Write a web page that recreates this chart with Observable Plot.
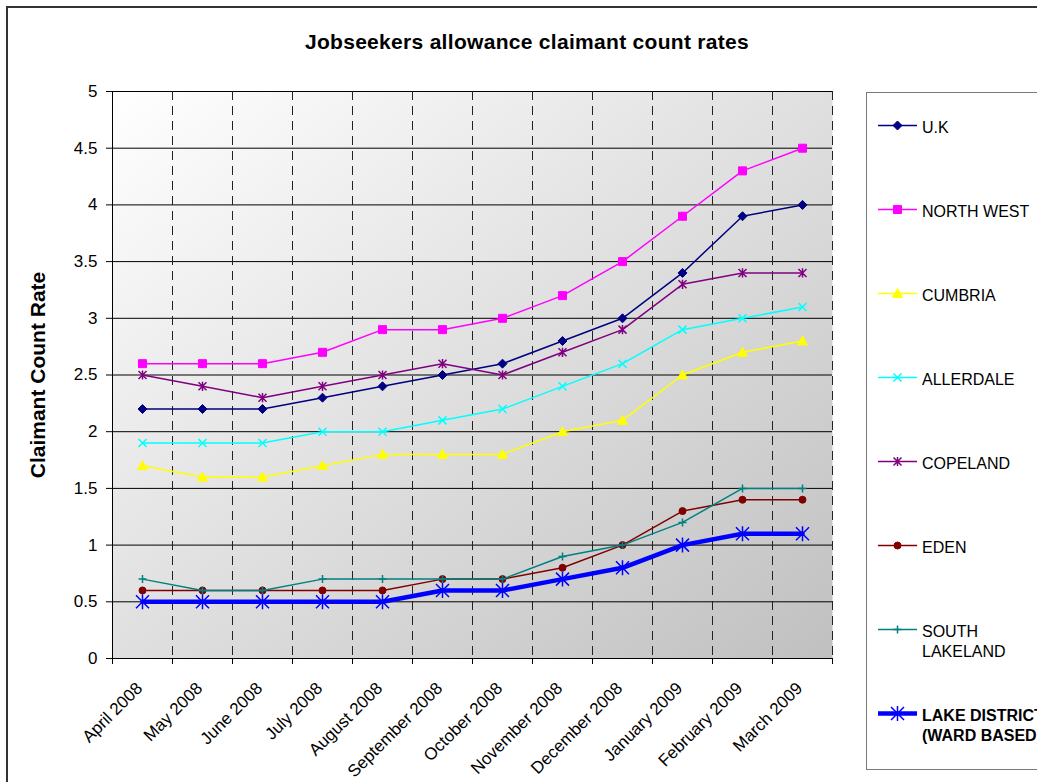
<!DOCTYPE html>
<html>
<head>
<meta charset="utf-8">
<script src="https://cdn.jsdelivr.net/npm/d3@7"></script>
<script src="https://cdn.jsdelivr.net/npm/@observablehq/plot@0.6"></script>
<style>
  html, body { margin: 0; padding: 0; background: #fff; overflow: hidden; }
  #chart { position: relative; width: 1037px; height: 782px; font-family: "Liberation Sans", Arial, sans-serif; }
  #border { position: absolute; left: 6px; top: 6px; width: 1100px; height: 900px; border: 2px solid #333; box-sizing: border-box; }
  #main { position: absolute; left: 0; top: 0; }
  #title { position: absolute; left: 227px; width: 600px; top: 30px; line-height: 23px; text-align: center;
           font-weight: bold; font-size: 21px; letter-spacing: 0.3px; color: #000; }
  #legend { position: absolute; left: 866px; top: 92px; width: 220px; height: 678px;
            border: 1.5px solid #7a7a7a; box-sizing: border-box; background: #fff; }
  #legend svg, #main svg { display: block; }
</style>
</head>
<body>
<div id="chart">
  <div id="border"></div>
  <div id="main"></div>
  <div id="title">Jobseekers allowance claimant count rates</div>
  <div id="legend"></div>
</div>
<script>
// Months on the category axis
const months = ["April 2008", "May 2008", "June 2008", "July 2008", "August 2008", "September 2008",
                "October 2008", "November 2008", "December 2008", "January 2009", "February 2009", "March 2009"];

// Claimant count rates (%) by area
const uk            = [2.2, 2.2, 2.2, 2.3, 2.4, 2.5, 2.6, 2.8, 3.0, 3.4, 3.9, 4.0];
const northWest     = [2.6, 2.6, 2.6, 2.7, 2.9, 2.9, 3.0, 3.2, 3.5, 3.9, 4.3, 4.5];
const cumbria       = [1.7, 1.6, 1.6, 1.7, 1.8, 1.8, 1.8, 2.0, 2.1, 2.5, 2.7, 2.8];
const allerdale     = [1.9, 1.9, 1.9, 2.0, 2.0, 2.1, 2.2, 2.4, 2.6, 2.9, 3.0, 3.1];
const copeland      = [2.5, 2.4, 2.3, 2.4, 2.5, 2.6, 2.5, 2.7, 2.9, 3.3, 3.4, 3.4];
const eden          = [0.6, 0.6, 0.6, 0.6, 0.6, 0.7, 0.7, 0.8, 1.0, 1.3, 1.4, 1.4];
const southLakeland = [0.7, 0.6, 0.6, 0.7, 0.7, 0.7, 0.7, 0.9, 1.0, 1.2, 1.5, 1.5];
const lakeDistrict  = [0.5, 0.5, 0.5, 0.5, 0.5, 0.6, 0.6, 0.7, 0.8, 1.0, 1.1, 1.1];

// Legend labels
const labels = ["U.K", "NORTH WEST", "CUMBRIA", "ALLERDALE", "COPELAND", "EDEN",
                "SOUTH\nLAKELAND", "LAKE DISTRICT\n(WARD BASED)"];

// Value axis ticks
const yTicks = [0, 0.5, 1, 1.5, 2, 2.5, 3, 3.5, 4, 4.5, 5];

// Marker shapes (half-width = r)
const half = s => Math.sqrt(s / Math.PI);
const symbols = {
  diamond: { draw(c, s) { const h = half(s); c.moveTo(0, -h); c.lineTo(h, 0); c.lineTo(0, h); c.lineTo(-h, 0); c.closePath(); } },
  square:  { draw(c, s) { const h = half(s); c.rect(-h, -h, 2 * h, 2 * h); } },
  triangle:{ draw(c, s) { const h = half(s); c.moveTo(0, -h); c.lineTo(h, 0.78 * h); c.lineTo(-h, 0.78 * h); c.closePath(); } },
  times:   { draw(c, s) { const h = half(s); c.moveTo(-h, -h); c.lineTo(h, h); c.moveTo(h, -h); c.lineTo(-h, h); } },
  star:    { draw(c, s) { const h = half(s); c.moveTo(-h, -h); c.lineTo(h, h); c.moveTo(h, -h); c.lineTo(-h, h); c.moveTo(0, -h * 1.15); c.lineTo(0, h * 1.15); } },
  circle:  { draw(c, s) { const h = half(s); c.moveTo(h, 0); c.arc(0, 0, h, 0, 2 * Math.PI); } },
  plus:    { draw(c, s) { const h = half(s); c.moveTo(-h, 0); c.lineTo(h, 0); c.moveTo(0, -h); c.lineTo(0, h); } }
};

const series = [
  { label: labels[0], values: uk,            color: "#000080", symbol: symbols.diamond,  filled: true,  r: 4.5, width: 1.5 },
  { label: labels[1], values: northWest,     color: "#ff00ff", symbol: symbols.square,   filled: true,  r: 4,   width: 1.5 },
  { label: labels[2], values: cumbria,       color: "#ffff00", symbol: symbols.triangle, filled: true,  r: 5,   width: 1.5 },
  { label: labels[3], values: allerdale,     color: "#00ffff", symbol: symbols.times,    filled: false, r: 4,   width: 1.5 },
  { label: labels[4], values: copeland,      color: "#800080", symbol: symbols.star,     filled: false, r: 4,   width: 1.5 },
  { label: labels[5], values: eden,          color: "#800000", symbol: symbols.circle,   filled: true,  r: 3.5, width: 1.5 },
  { label: labels[6], values: southLakeland, color: "#008080", symbol: symbols.plus,     filled: false, r: 4,   width: 1.5 },
  { label: labels[7], values: lakeDistrict,  color: "#0000ff", symbol: symbols.star,     filled: false, r: 6.5, width: 4.5 }
];

const rowsOf = s => s.values.map((v, i) => ({ i, v }));
const markerStyle = s => s.filled
  ? { fill: s.color, stroke: s.color, strokeWidth: 1 }
  : { fill: "none", stroke: s.color, strokeWidth: 1.5 };

const xDomain = [-0.5, months.length - 0.5];
const boundaries = months.map((m, i) => i + 0.5);
const font = "'Liberation Sans', Arial, sans-serif";

const main = Plot.plot({
  width: 1037,
  height: 782,
  marginLeft: 112,
  marginRight: 205,
  marginTop: 91,
  marginBottom: 124,
  style: { fontFamily: font, fontSize: "17px", color: "#000", background: "transparent", overflow: "visible" },
  x: { domain: xDomain, axis: null },
  y: { domain: [0, 5], axis: null },
  marks: [
    Plot.frame({ fill: "url(#plotbg)", stroke: "none" }),
    Plot.gridY(yTicks, { stroke: "#000", strokeOpacity: 1, strokeWidth: 1 }),
    Plot.ruleX(boundaries, { stroke: "#222", strokeWidth: 1, strokeDasharray: "9,6" }),
    // value axis: tick marks and labels
    Plot.axisY({ ticks: yTicks, tickSize: 6, tickFormat: () => "", label: null }),
    Plot.text(yTicks, { y: d => d, text: d => String(d), frameAnchor: "left", textAnchor: "end", dx: -15, fontSize: 17, fill: "#000" }),
    // category axis: boundary ticks and rotated month labels
    Plot.axisX({ ticks: [xDomain[0], ...boundaries], tickSize: 6, tickFormat: () => "", label: null }),
    Plot.ruleX([xDomain[0]], { stroke: "#000", strokeWidth: 1 }),
    Plot.ruleY([0], { stroke: "#000", strokeWidth: 1 }),
    Plot.text(months, {
      x: (d, i) => i, text: d => d, frameAnchor: "bottom", rotate: -45,
      textAnchor: "end", lineAnchor: "middle", dx: -3, dy: 27, fontSize: 17, fill: "#000"
    }),
    ...series.flatMap(s => [
      Plot.line(rowsOf(s), { x: "i", y: "v", stroke: s.color, strokeWidth: s.width, strokeLinejoin: "round" }),
      Plot.dot(rowsOf(s), { x: "i", y: "v", symbol: s.symbol, r: s.r, ...markerStyle(s) })
    ]),
    Plot.text(["Claimant Count Rate"], {
      frameAnchor: "left", rotate: -90, textAnchor: "middle", dx: -74, fontSize: 21, fontWeight: "bold", fill: "#000"
    })
  ]
});

// Diagonal grey fade behind the plotting area
const defs = d3.select(main).insert("defs", ":first-child");
const grad = defs.append("linearGradient").attr("id", "plotbg")
  .attr("x1", 0).attr("y1", 0).attr("x2", 1).attr("y2", 1);
grad.append("stop").attr("offset", "0%").attr("stop-color", "#ffffff");
grad.append("stop").attr("offset", "100%").attr("stop-color", "#c0c0c0");

document.getElementById("main").appendChild(main);

// Legend: one row per series with line sample and marker
const legend = Plot.plot({
  width: 217,
  height: 675,
  margin: 0,
  style: { fontFamily: font, fontSize: "16px", color: "#000", background: "transparent", overflow: "visible" },
  x: { domain: [0, 1], range: [10.5, 49.5], axis: null },
  y: { type: "point", domain: labels, range: [29.5, 621.5], padding: 0, axis: null },
  marks: [
    ...series.flatMap(s => [
      Plot.link([s], { x1: () => 0, x2: () => 1, y1: "label", y2: "label", stroke: s.color, strokeWidth: s.width }),
      Plot.dot([s], { x: () => 0.5, y: "label", symbol: s.symbol, r: s.r, ...markerStyle(s) })
    ]),
    Plot.text(series, {
      filter: (d, i) => i < series.length - 1,
      x: () => 1, y: "label", text: "label", dx: 5, textAnchor: "start", lineAnchor: "top",
      dy: -6.5, lineHeight: 1.25, fontSize: 16, fill: "#000"
    }),
    Plot.text(series, {
      filter: (d, i) => i === series.length - 1,
      x: () => 1, y: "label", text: "label", dx: 5, textAnchor: "start", lineAnchor: "top",
      dy: -6.5, lineHeight: 1.25, fontSize: 16, fontWeight: "bold", fill: "#000"
    })
  ]
});
document.getElementById("legend").appendChild(legend);
</script>
</body>
</html>
